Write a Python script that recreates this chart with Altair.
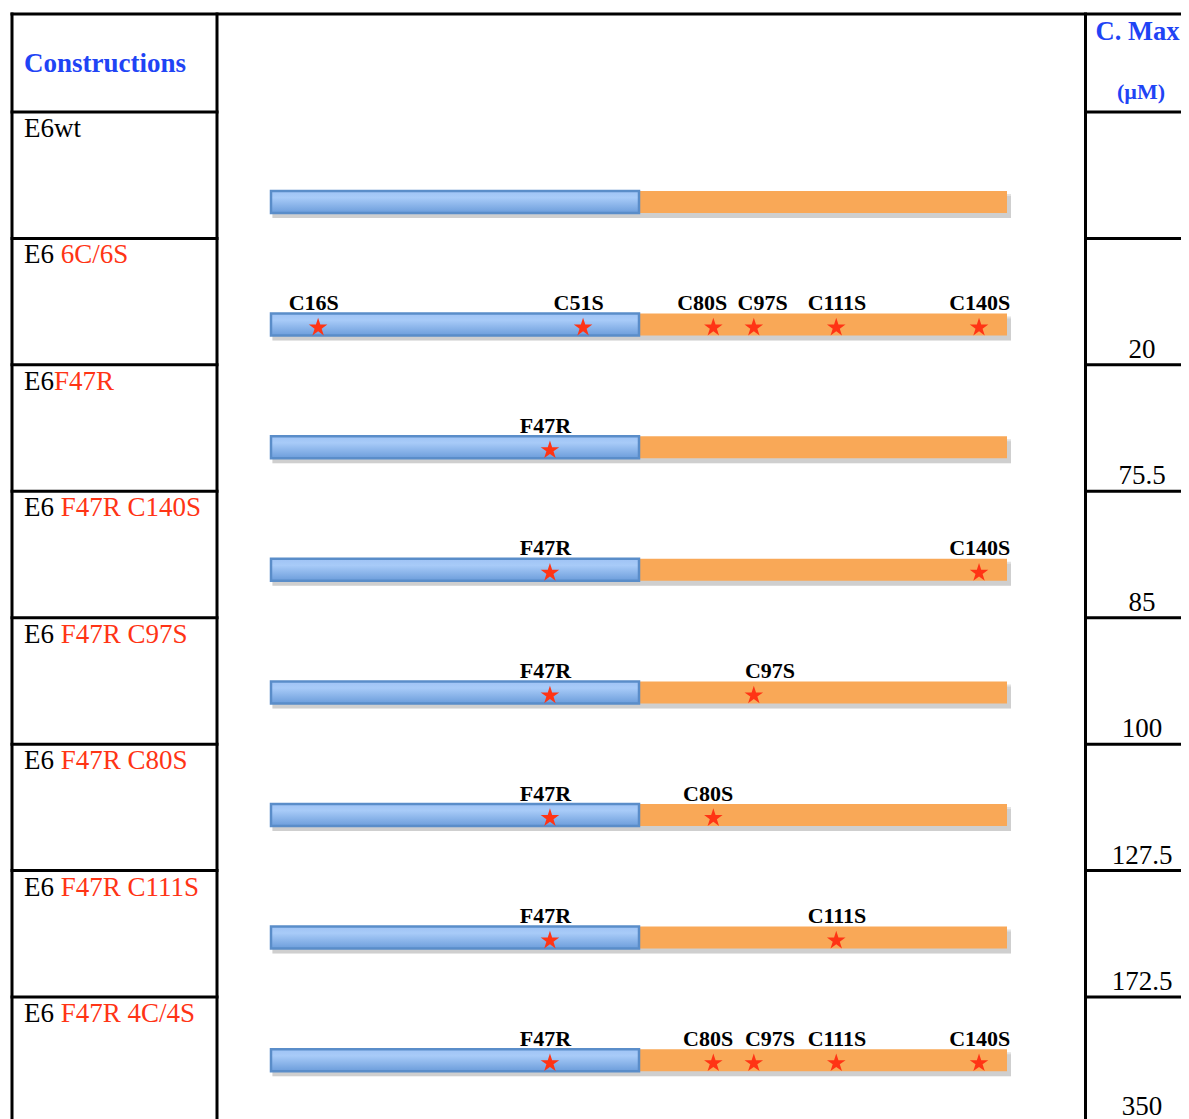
import altair as alt
import pandas as pd

# ---------------- data ----------------
construct_black = ["E6wt", "E6 ", "E6", "E6 ", "E6 ", "E6 ", "E6 ", "E6 "]
construct_red = ["", "6C/6S", "F47R", "F47R C140S", "F47R C97S", "F47R C80S", "F47R C111S", "F47R 4C/4S"]
cmax_values = ["", "20", "75.5", "85", "100", "127.5", "172.5", "350"]

mutation_names = ["C16S", "C51S", "F47R", "C80S", "C97S", "C111S", "C140S"]
# position along the construct (0-100; N-term domain 0-50, C-term domain 50-100)
mutation_pos = [6.4, 42.4, 37.9, 60.1, 65.6, 76.8, 96.2]
label_pos = [5.8, 41.8, 37.3, 59.4, 67.8, 76.9, 96.3]
row_mutations = [
    [],
    ["C16S", "C51S", "C80S", "C97S", "C111S", "C140S"],
    ["F47R"],
    ["F47R", "C140S"],
    ["F47R", "C97S"],
    ["F47R", "C80S"],
    ["F47R", "C111S"],
    ["F47R", "C80S", "C97S", "C111S", "C140S"],
]
crowded_label_pos = {(1, "C80S"): 58.6, (1, "C97S"): 66.8}
domain_names = ["N-term", "C-term"]
domain_start = [0, 50]
domain_end = [50, 100]

# ---------------- layout ----------------
W, H = 1173, 1111
X0, XU = 271.0, 7.36          # px of construct start, px per unit
ROW0, ROWH = 112.0, 126.43    # table rows
BAR0, BARH = 202.0, 122.6     # bar centres
BAR_HALF = 11.0
FONT = "Liberation Serif"
BLUE_TXT = "#1f44f5"
RED = "#ff3415"


def ux(u):
    return X0 + u * XU


xs = alt.Scale(domain=[8, 8 + W], nice=False, zero=False)
ys = alt.Scale(domain=[8, 8 + H], nice=False, zero=False, reverse=True)

n = len(construct_black)

# table lines
segs = [dict(x=12, x2=8 + W, y=14, y2=14)]
segs.append(dict(x=12, x2=12, y=14, y2=8 + H))
segs.append(dict(x=217, x2=217, y=14, y2=8 + H))
segs.append(dict(x=1085.5, x2=1085.5, y=14, y2=8 + H))
for i in range(n):
    yy = ROW0 + ROWH * i
    segs.append(dict(x=12, x2=217, y=yy, y2=yy))
    segs.append(dict(x=1085.5, x2=8 + W, y=yy, y2=yy))
lines = alt.Chart(pd.DataFrame(segs)).mark_rule(color="black", strokeWidth=3, strokeCap="square").encode(
    x=alt.X("x:Q", scale=xs, axis=None), x2="x2:Q",
    y=alt.Y("y:Q", scale=ys, axis=None), y2="y2:Q")

# bars
bars = []
for i in range(n):
    c = BAR0 + BARH * i
    for d, s, e in zip(domain_names, domain_start, domain_end):
        bars.append(dict(row=i, dom=d, x=ux(s), x2=ux(e), y=c - BAR_HALF, y2=c + BAR_HALF))
bars_df = pd.DataFrame(bars)

shadow_df = pd.DataFrame([dict(x=ux(0) + 2, x2=ux(100) + 4, y=BAR0 + BARH * i - BAR_HALF + 5,
                               y2=BAR0 + BARH * i + BAR_HALF + 5) for i in range(n)])
shadow1 = alt.Chart(shadow_df).mark_rect(color="#7a7a7a", opacity=0.18).encode(
    x=alt.X("x:Q", scale=xs, axis=None), x2="x2:Q",
    y=alt.Y("y:Q", scale=ys, axis=None), y2="y2:Q")
shadow2 = alt.Chart(shadow_df).mark_rect(color="#7a7a7a", opacity=0.22, yOffset=-2, xOffset=-1).encode(
    x=alt.X("x:Q", scale=xs, axis=None), x2="x2:Q",
    y=alt.Y("y:Q", scale=ys, axis=None), y2="y2:Q")

blue_grad = alt.Gradient(
    gradient="linear", x1=0, y1=0, x2=0, y2=1,
    stops=[alt.GradientStop(color="#9fc3f5", offset=0),
           alt.GradientStop(color="#a8cbf8", offset=0.3),
           alt.GradientStop(color="#6c9ddb", offset=1)])
orange = alt.Chart(bars_df[bars_df.dom == "C-term"]).mark_rect(color="#f9a857").encode(
    x=alt.X("x:Q", scale=xs, axis=None), x2="x2:Q",
    y=alt.Y("y:Q", scale=ys, axis=None), y2="y2:Q")
blue = alt.Chart(bars_df[bars_df.dom == "N-term"]).mark_rect(
    fill=blue_grad, stroke="#5a8dc9", strokeWidth=2.5).encode(
    x=alt.X("x:Q", scale=xs, axis=None), x2="x2:Q",
    y=alt.Y("y:Q", scale=ys, axis=None), y2="y2:Q")

# stars and mutation labels
pos_map = dict(zip(mutation_names, mutation_pos))
lab_map = dict(zip(mutation_names, label_pos))
stars, labs = [], []
for i, muts in enumerate(row_mutations):
    c = BAR0 + BARH * i
    for m in muts:
        stars.append(dict(x=ux(pos_map[m]), y=c + 3.0, name=m))
        lp = crowded_label_pos.get((i, m), lab_map[m])
        labs.append(dict(x=ux(lp), y=c - 14.5, name=m))
STAR = ("M0,-1L0.2245,-0.309L0.951,-0.309L0.363,0.118L0.588,0.809L0,0.382"
        "L-0.588,0.809L-0.363,0.118L-0.951,-0.309L-0.2245,-0.309Z")
star_layer = alt.Chart(pd.DataFrame(stars)).mark_point(
    shape=STAR, size=380, filled=True, color=RED, opacity=1, strokeWidth=0).encode(
    x=alt.X("x:Q", scale=xs, axis=None), y=alt.Y("y:Q", scale=ys, axis=None))
lab_layer = alt.Chart(pd.DataFrame(labs)).mark_text(
    font=FONT, fontSize=22, fontWeight="bold", color="black", align="center", baseline="alphabetic").encode(
    x=alt.X("x:Q", scale=xs, axis=None), y=alt.Y("y:Q", scale=ys, axis=None), text="name:N")

# row labels
TW = {"E": 611, "6": 500, " ": 250, "w": 722, "t": 278}
FS = 27
blk, red, val = [], [], []
for i in range(n):
    top = ROW0 + ROWH * i
    blk.append(dict(x=24, y=top + 25, t=construct_black[i]))
    wpx = sum(TW[ch] for ch in construct_black[i]) * FS / 1000.0
    if construct_red[i]:
        red.append(dict(x=24 + wpx, y=top + 25, t=construct_red[i]))
    if cmax_values[i]:
        val.append(dict(x=1142, y=min(top + ROWH - 7, 1114.5), t=cmax_values[i]))


def text_layer(rows, **kw):
    return alt.Chart(pd.DataFrame(rows)).mark_text(font=FONT, baseline="alphabetic", **kw).encode(
        x=alt.X("x:Q", scale=xs, axis=None), y=alt.Y("y:Q", scale=ys, axis=None), text="t:N")


blk_layer = text_layer(blk, fontSize=FS, color="black", align="left")
red_layer = text_layer(red, fontSize=FS, color=RED, align="left")
val_layer = text_layer(val, fontSize=FS, color="black", align="center")
head1 = text_layer([dict(x=24, y=72, t="Constructions")], fontSize=27, fontWeight="bold",
                   color=BLUE_TXT, align="left")
head2 = text_layer([dict(x=1137.5, y=40, t="C. Max")], fontSize=26.5, fontWeight="bold",
                   color=BLUE_TXT, align="center")
head3 = text_layer([dict(x=1141, y=99, t="(µM)")], fontSize=22, fontWeight="bold",
                   color=BLUE_TXT, align="center")

chart = alt.layer(
    shadow1, shadow2, orange, blue, star_layer, lab_layer, lines,
    blk_layer, red_layer, val_layer, head1, head2, head3
).properties(
    width=W, height=H, autosize=alt.AutoSizeParams(type="none"), padding=0
).configure_view(stroke=None)

chart.save("out.html", embed_options={"renderer": "svg", "actions": False})
